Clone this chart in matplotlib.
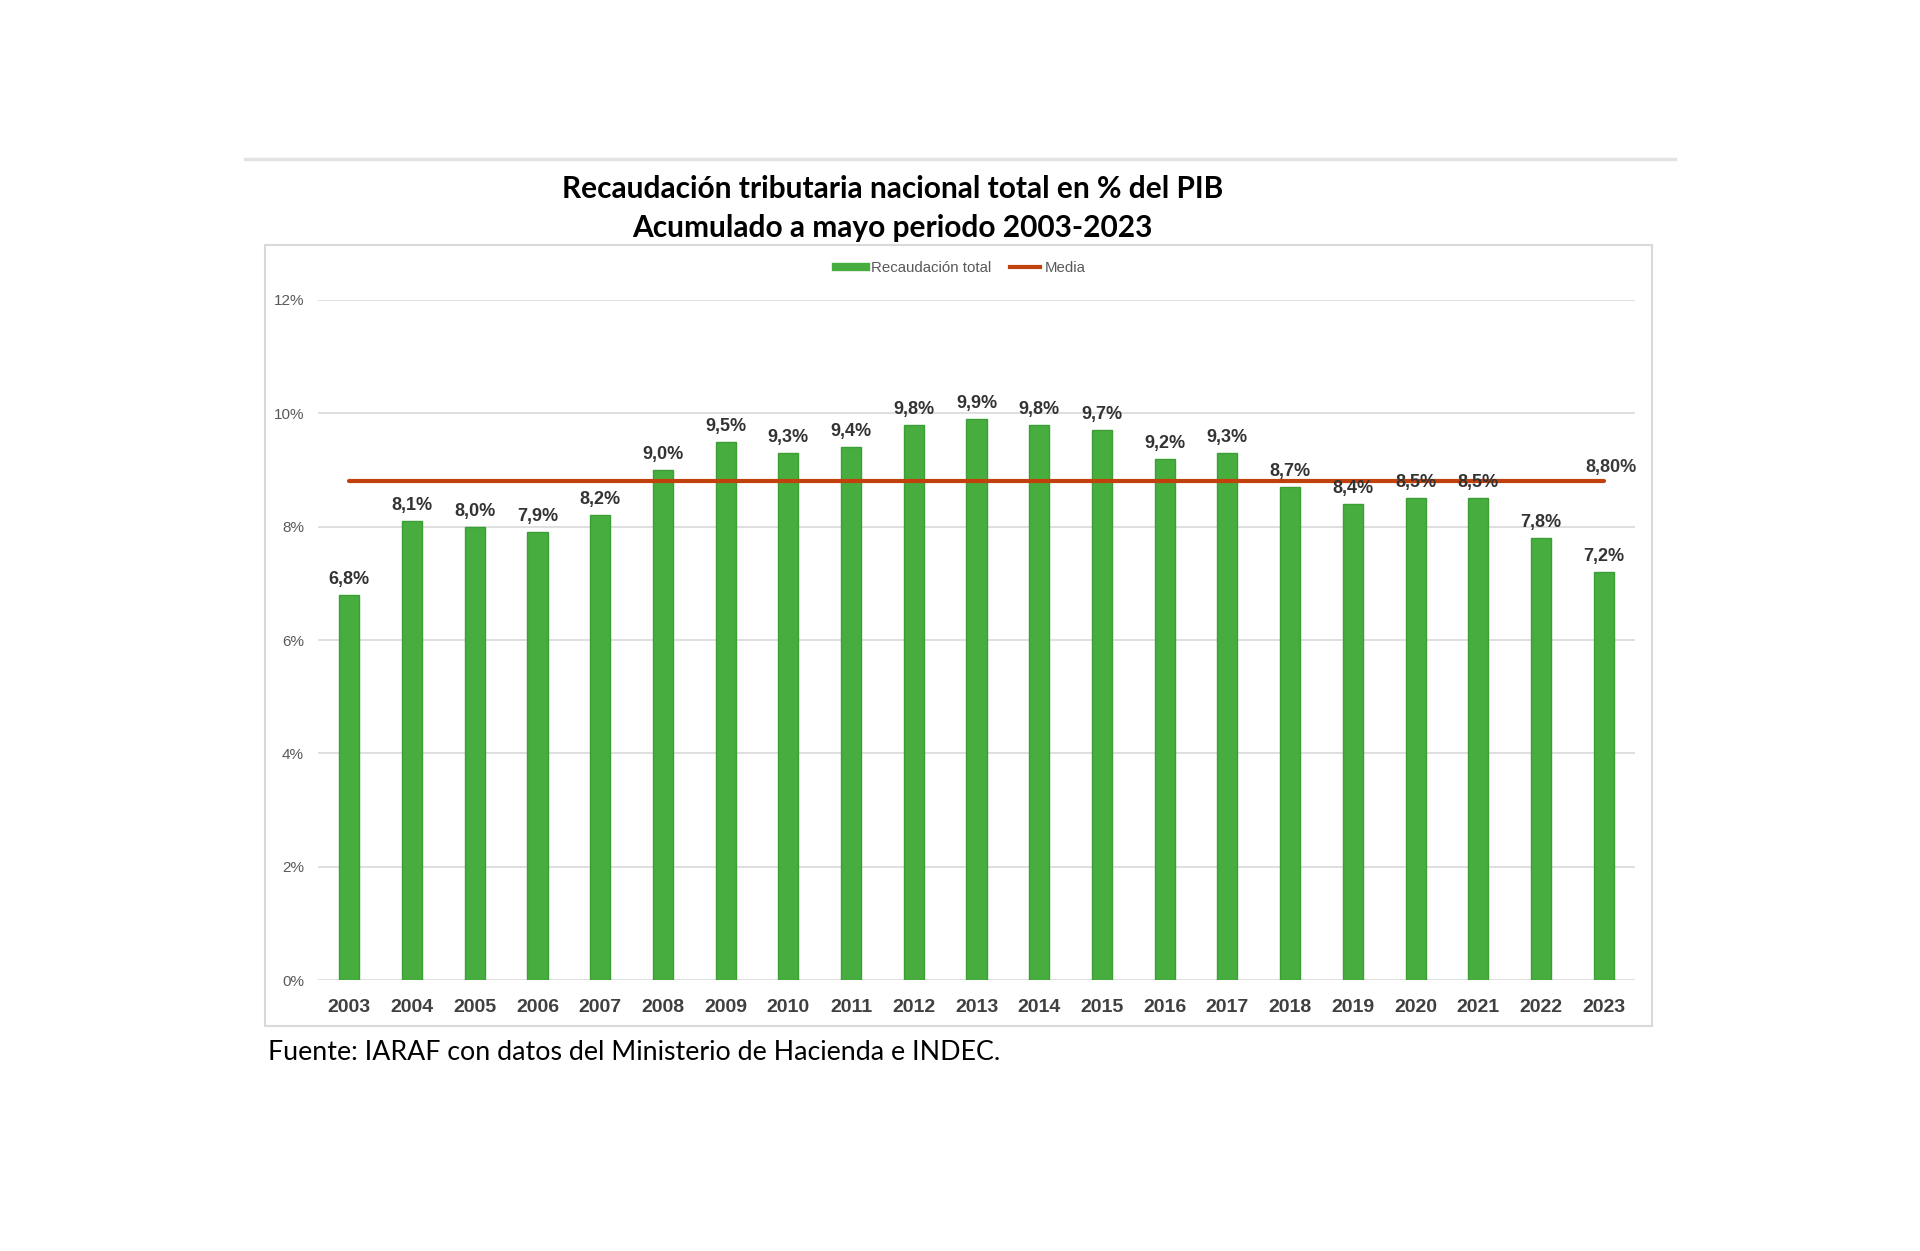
import matplotlib
matplotlib.use("Agg")
import matplotlib.pyplot as plt
from matplotlib.lines import Line2D
from matplotlib.patches import Rectangle

years = ["2003", "2004", "2005", "2006", "2007", "2008", "2009", "2010", "2011", "2012",
         "2013", "2014", "2015", "2016", "2017", "2018", "2019", "2020", "2021", "2022", "2023"]
recaudacion = [6.8, 8.1, 8.0, 7.9, 8.2, 9.0, 9.5, 9.3, 9.4, 9.8,
               9.9, 9.8, 9.7, 9.2, 9.3, 8.7, 8.4, 8.5, 8.5, 7.8, 7.2]
media = 8.80
yticks = [0, 2, 4, 6, 8, 10, 12]

green = "#46AD3E"
red = "#C0410C"

fig = plt.figure(figsize=(19.2, 12.51), dpi=100)
fig.patch.set_facecolor("white")

# separator line and chart frame
fig.add_artist(Line2D([0.1276, 0.8724], [0.8729, 0.8729], color="#E3E3E3", lw=2.5,
                      transform=fig.transFigure))
fig.add_artist(Rectangle((0.1378, 0.1799), 0.8604 - 0.1378, 0.8042 - 0.1799,
                         transform=fig.transFigure, fill=False, edgecolor="#D9D9D9", lw=1.5))

ax = fig.add_axes([0.1656, 0.2166, 0.686, 0.5436])
x = list(range(len(years)))
ax.bar(x, recaudacion, width=0.32, color=green, edgecolor="#3C9E35", linewidth=1, zorder=2)
ax.plot([0, len(years) - 1], [media, media], color=red, lw=3, zorder=3,
        solid_capstyle="round")

for xi, v in zip(x, recaudacion):
    ax.annotate(f"{v:.1f}%".replace(".", ","), (xi, v), xytext=(0, 5),
                textcoords="offset points", ha="center", va="bottom",
                fontsize=13, fontweight="bold", color="#333333", family="Liberation Sans")

ax.annotate(f"{media:.2f}%".replace(".", ","), (len(years) - 1, media), xytext=(5, 4),
            textcoords="offset points", ha="center", va="bottom",
            fontsize=13, fontweight="semibold", color="#3A3A3A", family="Liberation Sans")

ax.set_xlim(-0.5, len(years) - 0.5)
ax.set_ylim(0, 12)
ax.set_yticks(yticks)
ax.set_yticklabels([f"{t}%" for t in yticks], fontsize=11, color="#595959",
                   family="Liberation Sans")
ax.set_xticks(x)
ax.set_xticklabels(years, fontsize=14, fontweight="bold", color="#404040",
                   family="Liberation Sans")
ax.tick_params(axis="both", length=0)
ax.tick_params(axis="x", pad=14)
ax.tick_params(axis="y", pad=10)
ax.grid(axis="y", color="#D9D9D9", lw=1.2, zorder=0)
ax.set_axisbelow(True)
for s in ax.spines.values():
    s.set_visible(False)

handles = [Line2D([], [], color=green, lw=6), Line2D([], [], color=red, lw=3)]
fig.legend(handles, ["Recaudación total", "Media"], loc="center",
           bbox_to_anchor=(0.5005, 0.7858), ncol=2, frameon=False,
           prop={"family": "Liberation Sans", "size": 10.8}, labelcolor="#595959",
           handlelength=2.0, handletextpad=0.3, columnspacing=1.3)

fig.text(0.465, 0.8493, "Recaudación tributaria nacional total en % del PIB",
         ha="center", va="center", fontsize=21.5, fontweight="bold", family="Lato", color="black")
fig.text(0.465, 0.8181, "Acumulado a mayo periodo 2003-2023",
         ha="center", va="center", fontsize=21.5, fontweight="bold", family="Lato", color="black")
fig.text(0.1396, 0.1583, "Fuente: IARAF con datos del Ministerio de Hacienda e INDEC.",
         ha="left", va="center", fontsize=19.3, family="Lato", color="black")

fig.savefig("out.png", dpi=100)
